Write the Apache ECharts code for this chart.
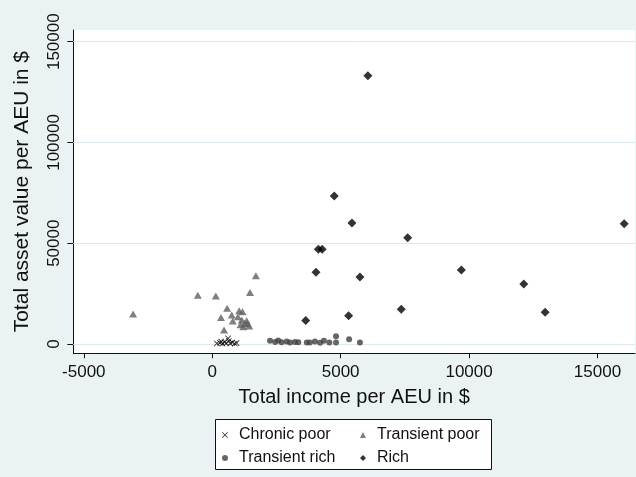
<!DOCTYPE html>
<html><head><meta charset="utf-8">
<script src="https://cdn.jsdelivr.net/npm/echarts@6/dist/echarts.min.js"></script>
<style>html,body{margin:0;padding:0;background:#eaf2f4;}#c{width:636px;height:477px;}</style>
</head><body><div id="c"></div>
<script>
// Data: [income per AEU ($), asset value per AEU ($)]
const chronicPoor = [[180,300],[300,600],[350,1200],[400,200],[480,900],[550,400],[620,2800],[650,1500],[700,300],[780,800],[880,200],[950,500]];
const transientPoor = [[-3080,14900],[-560,24200],[140,23800],[1470,25600],[1700,33900],[580,17700],[340,13200],[760,14400],[1050,16500],[1180,16000],[800,11400],[1150,11900],[1340,11500],[1210,8600],[1440,8900],[460,6900],[1270,10300],[1000,13500],[1380,10000],[1100,9500]];
const transientRich = [[2250,1600],[2450,1000],[2570,1700],[2700,900],[2900,1200],[3030,700],[3220,1000],[3350,900],[3680,800],[3800,700],[4000,1300],[4200,600],[4350,1600],[4560,700],[4820,3900],[4820,700],[5330,2300],[5750,700]];
const rich = [[6060,133100],[4750,73400],[5440,60000],[7610,52700],[16040,59700],[4130,47000],[4280,47000],[4040,35600],[5750,33200],[9700,36700],[12130,29800],[12960,15700],[7360,17200],[5310,14000],[3640,11600]];
const xTicks = [-5000,0,5000,10000,15000];
const yTicks = [0,50000,100000,150000];
const seriesNames = ['Chronic poor','Transient poor','Transient rich','Rich'];

const FONT = '"Liberation Sans", Arial, sans-serif';
const xPath = 'path://M0,1L1,0L5,4L9,0L10,1L6,5L10,9L9,10L5,6L1,10L0,9L4,5Z';
const plain = v => String(Math.round(v));
const legendText = {fontSize:16, color:'#111', fontFamily:FONT, padding:[0,0,0,6]};
const chart = echarts.init(document.getElementById('c'), null, {renderer:'canvas'});
chart.setOption({
  backgroundColor:'#eaf2f4',
  animation:false,
  textStyle:{fontFamily:FONT},
  grid:{left:73.3, top:30, right:1, bottom:123.7, backgroundColor:'#ffffff', show:true, borderWidth:0},
  xAxis:{type:'value', min:-5409, max:16460,
    name:'Total income per AEU in $', nameLocation:'middle', nameGap:34,
    nameTextStyle:{fontSize:20, color:'#111', fontFamily:FONT},
    axisLine:{show:true, onZero:false, lineStyle:{color:'#111', width:1}},
    axisTick:{show:true, length:5, customValues:xTicks, lineStyle:{color:'#111'}},
    axisLabel:{customValues:xTicks, formatter:plain, fontSize:17, color:'#111', margin:11, fontFamily:FONT},
    splitLine:{show:false}},
  yAxis:{type:'value', min:-4615, max:155800,
    name:'Total asset value per AEU in $', nameLocation:'middle', nameGap:41,
    nameTextStyle:{fontSize:21, color:'#111', fontFamily:FONT},
    axisLine:{show:true, onZero:false, lineStyle:{color:'#111', width:1}},
    axisTick:{show:true, length:6, customValues:yTicks, lineStyle:{color:'#111'}},
    axisLabel:{customValues:yTicks, formatter:plain, fontSize:17, color:'#111', rotate:90, margin:10, fontFamily:FONT},
    splitLine:{show:false}},
  legend:[
    {data:[seriesNames[0],seriesNames[2]], orient:'vertical', left:222, top:427, itemGap:7, itemWidth:6, itemHeight:6,
     textStyle:legendText, padding:0},
    {data:[seriesNames[1],seriesNames[3]], orient:'vertical', left:360, top:427, itemGap:7, itemWidth:6, itemHeight:6,
     textStyle:legendText, padding:0}
  ],
  graphic:[{type:'rect', z:-1, shape:{x:215.5, y:419.5, width:276, height:50}, style:{fill:'#fff', stroke:'#111', lineWidth:1}}],
  series:[
    {name:seriesNames[0], type:'scatter', data:chronicPoor, symbol:xPath, symbolSize:6, itemStyle:{color:'#000'}, z:5,
     markLine:{silent:true, symbol:'none', label:{show:false}, lineStyle:{color:'#dce9ee', width:1, type:'solid'},
       data:yTicks.map(v=>({yAxis:v})), z:1}},
    {name:seriesNames[1], type:'scatter', data:transientPoor, symbol:'triangle', symbolSize:[8,7], itemStyle:{color:'#5f5f5f'}},
    {name:seriesNames[2], type:'scatter', data:transientRich, symbol:'circle', symbolSize:6, itemStyle:{color:'#404040'}},
    {name:seriesNames[3], type:'scatter', data:rich, symbol:'diamond', symbolSize:9, itemStyle:{color:'#000'}}
  ]
});
</script></body></html>
